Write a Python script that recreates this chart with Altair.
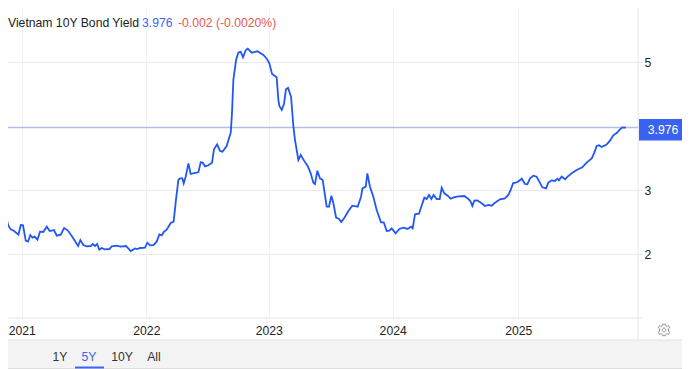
import altair as alt
import pandas as pd

FONT = "Liberation Sans"

years = [2020.881,2020.894,2020.913,2020.940,2020.975,2020.994,2021.012,2021.034,2021.053,2021.071,2021.088,2021.106,2021.128,2021.149,2021.176,2021.203,2021.227,2021.262,2021.284,2021.316,2021.343,2021.372,2021.405,2021.456,2021.474,2021.498,2021.525,2021.558,2021.574,2021.592,2021.609,2021.627,2021.646,2021.670,2021.708,2021.727,2021.767,2021.799,2021.842,2021.880,2021.915,2021.934,2021.955,2021.995,
2022.014,2022.036,2022.063,2022.089,2022.111,2022.130,2022.148,2022.170,2022.202,2022.226,2022.243,2022.264,2022.277,2022.296,2022.307,2022.323,2022.345,2022.363,2022.398,2022.425,2022.444,2022.460,2022.479,2022.506,2022.535,2022.551,2022.576,2022.600,2022.619,2022.653,2022.686,2022.696,2022.707,2022.729,2022.747,2022.766,2022.785,2022.807,2022.823,2022.855,2022.901,2022.949,2022.976,2022.997,
2023.019,2023.056,2023.070,2023.078,2023.097,2023.115,2023.131,2023.148,2023.172,2023.191,2023.204,2023.231,2023.250,2023.277,2023.309,2023.330,2023.352,2023.365,2023.384,2023.405,2023.427,2023.459,2023.478,2023.497,2023.513,2023.535,2023.556,2023.577,2023.602,2023.634,2023.666,2023.709,2023.736,2023.747,2023.774,2023.787,2023.808,2023.835,2023.862,2023.897,2023.919,2023.943,2023.964,2023.983,
2024.015,2024.045,2024.077,2024.112,2024.139,2024.152,2024.171,2024.203,2024.246,2024.265,2024.284,2024.303,2024.321,2024.346,2024.370,2024.386,2024.407,2024.434,2024.458,2024.483,2024.520,2024.569,2024.601,2024.617,2024.633,2024.649,2024.673,2024.708,2024.735,2024.762,2024.789,2024.816,2024.856,2024.896,2024.923,2024.942,2024.961,2024.998,
2025.031,2025.057,2025.076,2025.098,2025.125,2025.151,2025.173,2025.197,2025.227,2025.245,2025.272,2025.299,2025.318,2025.331,2025.353,2025.380,2025.401,2025.433,2025.474,2025.519,2025.554,2025.595,2025.616,2025.635,2025.654,2025.675,2025.715,2025.742,2025.769,2025.796,2025.823,2025.842,2025.871]

yields = [2.536,2.443,2.385,2.359,2.302,2.453,2.448,2.208,2.193,2.297,2.255,2.271,2.224,2.349,2.344,2.427,2.359,2.375,2.286,2.302,2.406,2.370,2.281,2.125,2.219,2.140,2.120,2.125,2.156,2.125,2.156,2.068,2.094,2.073,2.078,2.120,2.130,2.114,2.125,2.047,2.088,2.078,2.094,2.099,
2.177,2.135,2.140,2.193,2.307,2.292,2.349,2.380,2.484,2.505,2.818,3.157,3.183,3.183,3.104,3.209,3.417,3.250,3.266,3.276,3.433,3.427,3.370,3.386,3.427,3.636,3.714,3.610,3.599,3.688,3.896,4.198,4.719,5.031,5.146,5.162,5.073,5.188,5.209,5.146,5.167,5.110,5.052,4.979,
4.813,4.761,4.406,4.313,4.250,4.344,4.573,4.594,4.459,3.990,3.781,3.469,3.547,3.459,3.365,3.261,3.115,3.094,3.302,3.182,3.156,2.739,2.739,2.911,2.792,2.568,2.552,2.500,2.568,2.672,2.755,2.739,2.896,3.026,3.052,3.260,3.052,2.896,2.687,2.495,2.495,2.359,2.364,2.401,
2.323,2.391,2.411,2.391,2.427,2.401,2.620,2.630,2.880,2.859,2.922,2.859,2.922,2.859,2.859,3.036,2.948,2.911,2.864,2.885,2.901,2.906,2.859,2.828,2.750,2.833,2.838,2.792,2.750,2.766,2.755,2.802,2.854,2.870,2.922,3.000,3.104,3.125,
3.177,3.094,3.089,3.182,3.224,3.208,3.130,3.042,3.026,3.115,3.151,3.141,3.177,3.151,3.209,3.167,3.209,3.261,3.313,3.354,3.427,3.495,3.584,3.688,3.698,3.672,3.709,3.771,3.854,3.891,3.948,3.979,3.976]

year_ticks = [2021.002, 2022.006, 2022.992, 2023.991, 2025.003]
yield_ticks = [2, 3, 5]
last_price = 3.976
range_labels = ["1Y", "5Y", "10Y", "All"]

W, H = 630, 310
FS = 12.2
x_scale = alt.Scale(domain=[2020.891, 2025.968], nice=False, zero=False)
y_scale = alt.Scale(domain=[1.0, 5.844], nice=False, zero=False)

df = pd.DataFrame({"year": years, "yield": yields})
one = pd.DataFrame({"a": [0]})

def box(x, x2, y, y2, color):
    return alt.Chart(one).mark_rect(color=color, clip=False).encode(
        x=alt.value(x), x2=alt.value(x2), y=alt.value(y), y2=alt.value(y2))

def rule(x, x2, y, y2, color, **kw):
    return alt.Chart(one).mark_rule(color=color, strokeWidth=1, clip=False, **kw).encode(
        x=alt.value(x), x2=alt.value(x2), y=alt.value(y), y2=alt.value(y2))

def label(s, x, y, color, size=FS, align="left"):
    return alt.Chart(pd.DataFrame({"t": [s]})).mark_text(
        font=FONT, fontSize=size, color=color, align=align, baseline="middle", clip=False
    ).encode(x=alt.value(x), y=alt.value(y), text="t:N")

grid = alt.Chart(df).mark_line(opacity=0).encode(
    x=alt.X("year:Q", scale=x_scale, title=None, axis=alt.Axis(
        values=year_ticks, labelExpr="round(datum.value)", orient="bottom",
        grid=True, gridColor="#f0f2f7", gridWidth=1, ticks=False, domain=False,
        labelFont=FONT, labelFontSize=FS, labelColor="#222222", labelPadding=6,
        labelOverlap=False, labelFlush=False)),
    y=alt.Y("yield:Q", scale=y_scale, title=None, axis=alt.Axis(
        values=yield_ticks, orient="right", format="d",
        grid=True, gridColor="#e9e9ee", gridWidth=1, tickColor="#e0e0e0", tickSize=4,
        domain=False, labelFont=FONT, labelFontSize=FS, labelColor="#222222", labelPadding=2)),
)

price_line = alt.Chart(pd.DataFrame({"p": [last_price]})).mark_rule(
    color="#b4bfe6", strokeWidth=1.4
).encode(y=alt.Y("p:Q", scale=y_scale), x=alt.value(0), x2=alt.value(W))

line = alt.Chart(df).mark_line(color="#2158f5", strokeWidth=1.8, clip=True, interpolate="linear").encode(
    x=alt.X("year:Q", scale=x_scale), y=alt.Y("yield:Q", scale=y_scale))

gear_path = ("M-0.25,-1 L0.25,-1 L0.32,-0.72 L0.55,-0.62 L0.8,-0.78 L1,-0.42 L0.78,-0.22 L0.78,0.22 "
             "L1,0.42 L0.8,0.78 L0.55,0.62 L0.32,0.72 L0.25,1 L-0.25,1 L-0.32,0.72 L-0.55,0.62 L-0.8,0.78 "
             "L-1,0.42 L-0.78,0.22 L-0.78,-0.22 L-1,-0.42 L-0.8,-0.78 L-0.55,-0.62 L-0.32,-0.72 Z "
             "M0.32,0 A0.32,0.32 0 1 0 -0.32,0 A0.32,0.32 0 1 0 0.32,0 Z")
gear = alt.Chart(one).mark_point(shape=gear_path, size=130, filled=False, color="#6b6b6b",
                                 strokeWidth=1, clip=False).encode(x=alt.value(656), y=alt.value(322))

chart = alt.layer(
    grid,
    rule(0, 634, 310, 310, "#e4e4e4"),
    rule(630, 630, 0, 332, "#e8e8e8"),
    box(0, 674, 332, 361, "#f3f3f3"),
    rule(0, 674, 332, 332, "#e2e2e2"),
    rule(0, 674, 360.5, 360.5, "#dddddd"),
    price_line,
    line,
    box(631, 674, 111, 132.5, "#3a62f0"),
    label(str(last_price), 655, 122, "#ffffff", align="center"),
    label("Vietnam 10Y Bond Yield", 0, 15, "#222222"),
    label(str(last_price), 134, 15, "#3f63f2"),
    label("-0.002 (-0.0020%)", 170, 15, "#e8584f"),
    label(range_labels[0], 52, 349, "#333333", align="center"),
    label(range_labels[1], 81, 349, "#3f63f2", align="center"),
    label(range_labels[2], 114, 349, "#333333", align="center"),
    label(range_labels[3], 146, 349, "#333333", align="center"),
    box(67, 96, 358.5, 360.5, "#3f63f2"),
    gear,
).properties(
    width=W, height=H, background="#ffffff",
    autosize=alt.AutoSizeParams(type="none"),
    padding={"left": 0, "top": 0, "right": 44, "bottom": 51},
).configure_view(stroke=None)

chart.save("out.html", embed_options={"renderer": "svg", "actions": False})
